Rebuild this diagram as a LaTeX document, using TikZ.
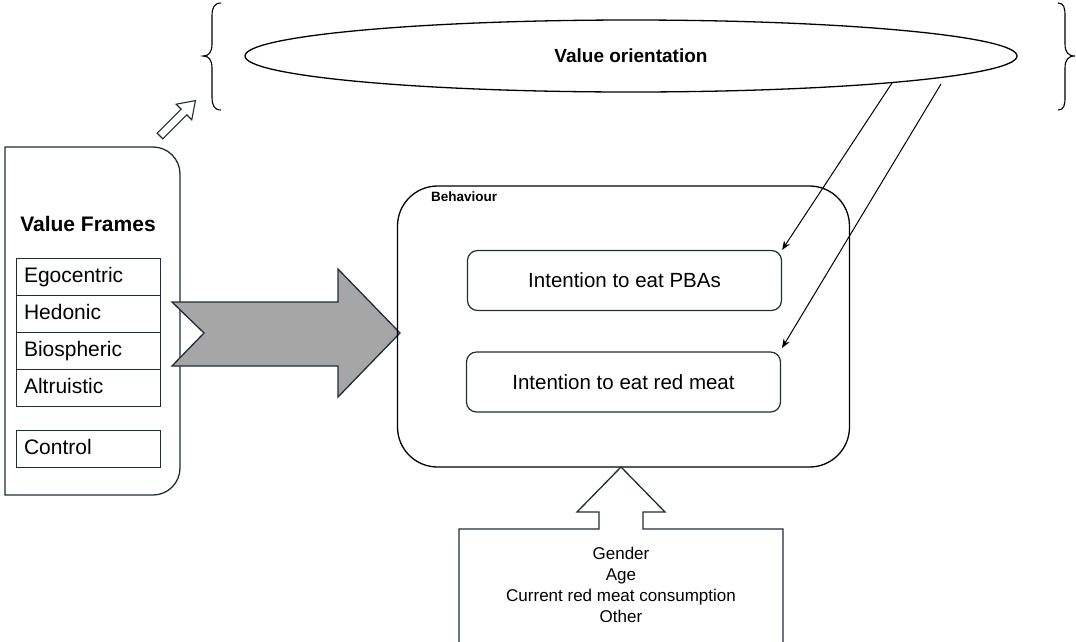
\documentclass[tikz,border=0pt]{standalone}
\usepackage{fontspec}
\setmainfont{Liberation Sans}
\usetikzlibrary{arrows.meta,shapes.geometric}
\definecolor{edge}{HTML}{1E2D36}
\definecolor{arrowgray}{HTML}{A6A6A6}
\begin{document}
\begin{tikzpicture}[x=1pt,y=-1pt,
  row/.style={draw=edge, line width=1pt, minimum width=144pt, minimum height=37pt, inner sep=0pt, text width=128pt, text height=15pt, text depth=4pt, align=left, font=\fontsize{21}{25}\selectfont},
  intent/.style={draw=edge, line width=1.2pt, rounded corners=10pt, minimum width=314pt, minimum height=60pt, inner sep=0pt, font=\fontsize{20.5}{24}\selectfont},
  outline/.style={draw=edge, line width=1.3pt},
  link/.style={draw=black, line width=1pt, -{Stealth[length=9pt,width=7pt]}},
  brace/.style={draw=black, line width=1.1pt}
]
\useasboundingbox (0,0) rectangle (1076,641);

% value orientation ellipse and braces
\node[draw=black, line width=1.3pt, ellipse, minimum width=772pt, minimum height=72pt, inner sep=0pt,
      font=\bfseries\fontsize{19}{23}\selectfont] (vo) at (631,56) {Value orientation};
\draw[brace] (221,3) .. controls (214,3) and (212,8) .. (212,16) -- (212,44)
  .. controls (212,52) and (209,56) .. (203,56)
  .. controls (209,56) and (212,60) .. (212,68) -- (212,97)
  .. controls (212,105) and (214,110) .. (221,110);
\draw[brace] (1058,3) .. controls (1064,3) and (1065,8) .. (1065,16) -- (1065,44)
  .. controls (1065,52) and (1068,56) .. (1075,56)
  .. controls (1068,56) and (1065,60) .. (1065,68) -- (1065,97)
  .. controls (1065,105) and (1064,110) .. (1058,110);

% small hollow arrow
\draw[outline, line width=1.1pt, fill=white] (162.8,138.8) -- (186.8,114.8) -- (191.8,119.8) -- (195.4,100.6)
  -- (176.2,104.2) -- (181.2,109.2) -- (157.2,133.2) -- cycle;

% value frames panel
\draw[outline] (92,147) [rounded corners=27pt] -- (180,147) -- (180,495) -- (92,495)
  [sharp corners] -- (5,495) -- (5,147) -- cycle;
\node[font=\bfseries\fontsize{21}{25}\selectfont] (vft) at (88,224) {Value Frames};
\node[row] (ego) at (88,276.5) {Egocentric};
\node[row] (hed) at (88,313.5) {Hedonic};
\node[row] (bio) at (88,350.5) {Biospheric};
\node[row] (alt) at (88,387.5) {Altruistic};
\node[row] (ctl) at (88,449) {Control};

% big gray arrow
\draw[outline, fill=arrowgray] (172,302) -- (338,302) -- (338,269) -- (400,333) -- (338,397)
  -- (338,366) -- (172,366) -- (204,333) -- cycle;

% behaviour box
\node[draw=black, line width=1.3pt, rounded corners=40pt, minimum width=452pt, minimum height=281pt] (beh) at (623.5,326.5) {};
\node[anchor=north west, inner sep=0pt, font=\bfseries\fontsize{13.5}{16}\selectfont] (behl) at (431,192) {Behaviour};
\node[intent] (pba) at (624.5,280.5) {Intention to eat PBAs};
\node[intent] (rm) at (623.5,382) {Intention to eat red meat};

% links from value orientation
\coordinate (s1) at (892,83);
\coordinate (s2) at (941,84);
\coordinate (e2) at (782,348);
\draw[link] (s1) -- (pba.north east);
\draw[link] (s2) -- (e2);

% covariates block arrow
\draw[outline, fill=white] (459,650) -- (459,529) -- (599,529) -- (599,512) -- (577,512) -- (621,467)
  -- (665,512) -- (643,512) -- (643,529) -- (783,529) -- (783,650);
\node[align=center, font=\fontsize{17}{21}\selectfont] (cov) at (621,585) {Gender\\Age\\Current red meat consumption\\Other};
\end{tikzpicture}
\end{document}
